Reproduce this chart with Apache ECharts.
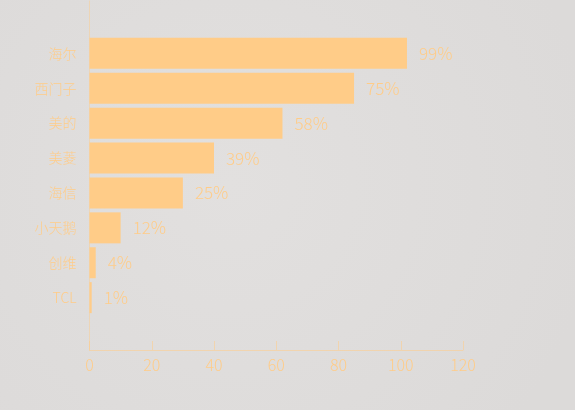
<!DOCTYPE html>
<html>
<head>
<meta charset="utf-8">
<script src="https://cdn.jsdelivr.net/npm/echarts@6/dist/echarts.min.js"></script>
<style>
html,body{margin:0;padding:0;}
#c{width:575px;height:410px;}
</style>
</head>
<body>
<div id="c"></div>
<script>
var brands = ['海尔', '西门子', '美的', '美菱', '海信', '小天鹅', '创维', 'TCL'];
var values = [102, 85, 62, 40, 30, 10, 2, 0.7];
var pctLabels = ['99%', '75%', '58%', '39%', '25%', '12%', '4%', '1%'];

var cats = [''].concat(brands).concat(['']);
var dataPadded = ['-'].concat(values).concat(['-']);
var labelPadded = [''].concat(pctLabels).concat(['']);

var orange = '#ffcc88';
var chart = echarts.init(document.getElementById('c'));
chart.setOption({
  backgroundColor: {
    type: 'radial', x: 0.4, y: 0.45, r: 0.9,
    colorStops: [{offset: 0, color: '#e2e0df'}, {offset: 1, color: '#dcdad9'}]
  },
  animation: false,
  grid: {left: 89.5, right: 112, top: 1, bottom: 60, containLabel: false},
  xAxis: {
    type: 'value', min: 0, max: 120, interval: 20,
    axisLine: {show: true, lineStyle: {color: 'rgba(255,204,136,0.55)'}},
    axisTick: {show: true, inside: true, length: 9, lineStyle: {color: 'rgba(255,204,136,0.55)'}},
    splitLine: {show: false},
    axisLabel: {color: orange, fontSize: 16, margin: 7, fontFamily: 'Noto Sans CJK SC', fontWeight: 300}
  },
  yAxis: {
    type: 'category', data: cats, inverse: true,
    axisLine: {show: true, lineStyle: {color: 'rgba(255,204,136,0.45)'}},
    axisTick: {show: false},
    axisLabel: {color: orange, fontSize: 14, margin: 13, fontFamily: 'Noto Sans CJK SC', fontWeight: 300}
  },
  series: [{
    type: 'bar', data: dataPadded, barWidth: 31,
    itemStyle: {color: orange},
    label: {
      show: true, position: 'right', distance: 12,
      color: orange, fontSize: 17, fontFamily: 'Noto Sans CJK SC', fontWeight: 300,
      formatter: function (p) { return labelPadded[p.dataIndex]; }
    }
  }]
});
</script>
</body>
</html>
